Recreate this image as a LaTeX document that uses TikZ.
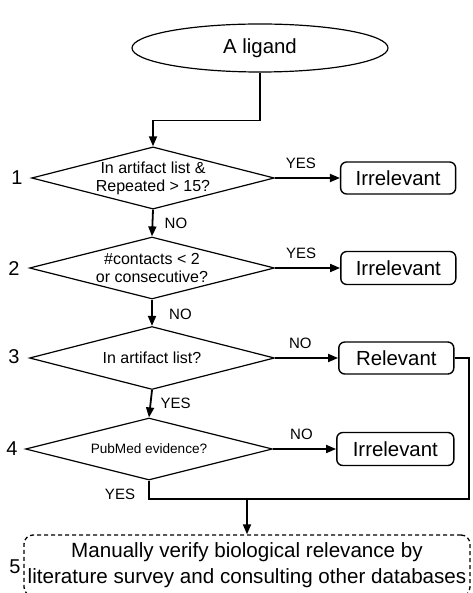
\documentclass[tikz,border=0pt]{standalone}
\usepackage{fontspec}
\setmainfont{Liberation Sans}
\usetikzlibrary{shapes.geometric, arrows.meta, positioning}

\tikzset{
  decision/.style={diamond, draw, line width=1.2pt, inner sep=0pt, aspect=3.9,
    align=center, font=\fontsize{16}{18}\selectfont},
  outcome/.style={rectangle, draw, rounded corners=6pt, line width=1.4pt,
    minimum width=115pt, minimum height=32pt, inner sep=0pt,
    font=\fontsize{20.4}{24}\selectfont},
  flow/.style={line width=1.8pt},
  flowarrow/.style={flow, -{Triangle[length=10pt,width=8pt]}},
  answer/.style={font=\fontsize{15}{17}\selectfont},
  stepnum/.style={font=\fontsize{20}{24}\selectfont}
}

\begin{document}
\begin{tikzpicture}[x=1pt, y=-1pt]
    \useasboundingbox (0,0) rectangle (472,593);

    \node[ellipse, draw, line width=1.2pt, minimum width=256pt, minimum height=48pt,
      inner sep=0pt, font=\fontsize{20.4}{24}\selectfont] (lig) at (260,48) {A ligand};

    % the four tests
    \node[decision, minimum width=242pt, minimum height=62pt] (d1) at (153,178) {In artifact list \&\\Repeated > 15?};
    \node[decision, minimum width=245pt, minimum height=62pt] (d2) at (152,268) {\#contacts < 2\\or consecutive?};
    \node[decision, minimum width=245pt, minimum height=63pt] (d3) at (152,358) {In artifact list?};
    \node[decision, minimum width=247pt, minimum height=62pt,
      font=\fontsize{13.6}{16}\selectfont] (d4) at (149,449) {PubMed evidence?};

    \node[outcome, right=65pt of d1] (b1) {Irrelevant};
    \node[outcome, right=65pt of d2, minimum height=33pt] (b2) {Irrelevant};
    \node[outcome, right=63pt of d3] (b3) {Relevant};
    \node[outcome, right=63pt of d4, minimum width=117pt, minimum height=33pt] (b4) {Irrelevant};

    \node[draw, dash pattern=on 4pt off 3pt, rounded corners=9pt, line width=1.3pt,
      minimum width=446pt, minimum height=61pt, inner sep=0pt, align=center,
      font=\fontsize{20.6}{26}\selectfont] (b5) at (247,565.5)
      {Manually verify biological relevance by\\literature survey and consulting other databases};

    % step numbers
    \node[stepnum] (n1) at (17,178) {1};
    \node[stepnum] (n2) at (14,269) {2};
    \node[stepnum] (n3) at (14,357) {3};
    \node[stepnum] (n4) at (12,449) {4};
    \node[stepnum] (n5) at (15,567) {5};

    \coordinate (j) at (469,499);

    \draw[flowarrow] (lig.south) -- ++(0,48) -| (d1.north);

    \draw[flowarrow] (d1.south) -- node[answer, right=8pt] {NO} (d2.north);
    \draw[flowarrow] (d2.south) -- node[answer, right=13pt, yshift=-2pt] {NO} (d3.north);
    \draw[flowarrow] (d3.south) -- node[answer, right=6pt] {YES} (d4.north);

    \draw[flowarrow] (d1.east) -- node[answer, above=5pt, pos=0.4] {YES} (b1);
    \draw[flowarrow] (d2.east) -- node[answer, above=5pt, pos=0.4] {YES} (b2);
    \draw[flowarrow] (d3.east) -- node[answer, above=5pt, pos=0.4] {NO} (b3);
    \draw[flowarrow] (d4.east) -- node[answer, above=5pt, pos=0.45] {NO} (b4);

    \draw[flow] (b3.east) -| (j) -| (d4.south);
    \node[answer] (y4) at (120,494) {YES};
    \draw[flowarrow] (b5.north |- j) -- (b5.north);
\end{tikzpicture}
\end{document}
